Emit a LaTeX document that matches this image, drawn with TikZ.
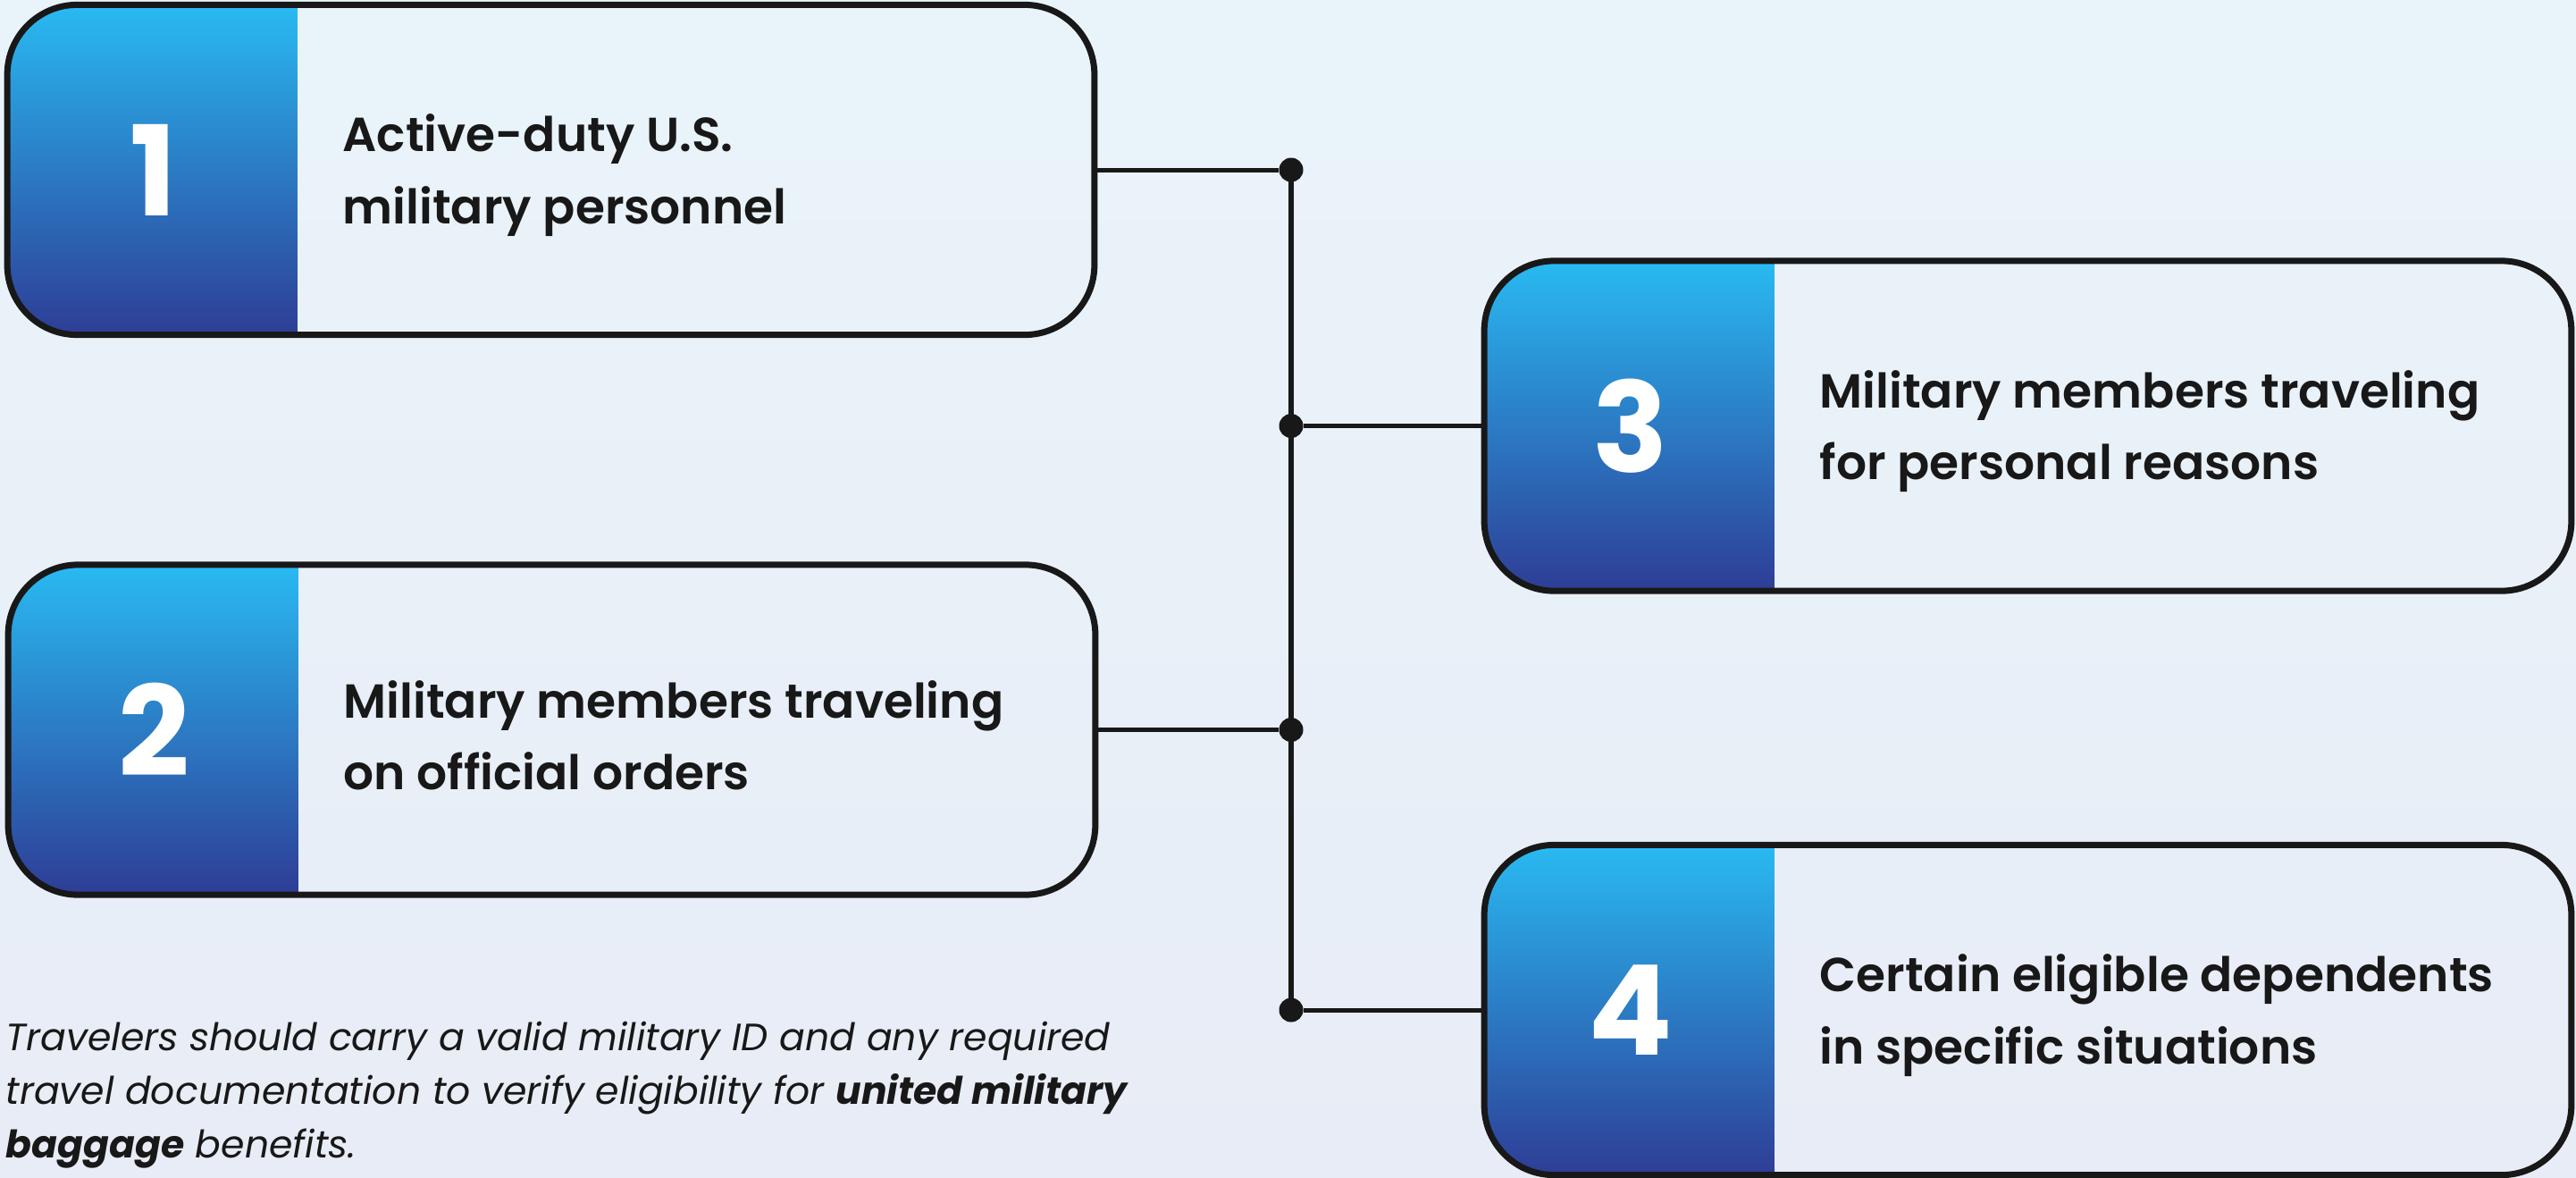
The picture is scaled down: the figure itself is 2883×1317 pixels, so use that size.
\documentclass[tikz,border=0pt]{standalone}
\usepackage{fontspec}
\setmainfont{Poppins}
\newfontfamily\cardfont{Poppins SemiBold}
\usepackage{xcolor}
\usetikzlibrary{calc}

\definecolor{bgtop}{HTML}{E9F4FA}
\definecolor{bgbot}{HTML}{E8ECF6}
\definecolor{skyblue}{HTML}{29BAF2}
\definecolor{deepblue}{HTML}{2E3D96}
\definecolor{ink}{HTML}{181818}

\tikzset{
  card/.style={draw=ink, line width=0.07cm, rounded corners=0.78cm,
    minimum width=12.16cm, minimum height=3.69cm, inner sep=0pt,
    path picture={\shade[sharp corners, top color=skyblue, bottom color=deepblue]
      (path picture bounding box.north west) rectangle
      ([xshift=3.24cm]path picture bounding box.south west);}},
  cardnum/.style={text=white, inner sep=0pt,
    font=\bfseries\fontsize{39.8}{40}\selectfont},
  cardtext/.style={text=ink, anchor=west, align=left, inner sep=0pt,
    font=\cardfont\fontsize{15.2}{22.8}\selectfont},
  dot/.style={circle, fill=ink, inner sep=0pt, minimum size=0.27cm},
  link/.style={draw=ink, line width=0.05cm},
  busline/.style={draw=ink, line width=0.06cm}
}

\begin{document}
\begin{tikzpicture}[x=0.01cm, y=-0.01cm]

    % Background
    \useasboundingbox (0,0) rectangle (2883,1317);
    \shade[top color=bgtop, bottom color=bgbot] (0,0) rectangle (2883,1317);

    % Cards on the left
    \node[card] (c1) at (616.5,190) {};
    \node[cardnum] (n1) at ([xshift=1.67cm]c1.west) {1};
    \node[cardtext] (t1) at ([xshift=3.78cm,yshift=-0.06cm]c1.west) {Active-duty U.S.\\military personnel};

    \node[card] (c2) at (617.5,816.5) {};
    \node[cardnum] (n2) at ([xshift=1.67cm]c2.west) {2};
    \node[cardtext] (t2) at ([xshift=3.78cm,yshift=-0.06cm]c2.west) {Military members traveling\\on official orders};

    % Cards on the right
    \node[card] (c3) at (2269.5,476.5) {};
    \node[cardnum] (n3) at ([xshift=1.67cm]c3.west) {3};
    \node[cardtext] (t3) at ([xshift=3.78cm,yshift=-0.06cm]c3.west) {Military members traveling\\for personal reasons};

    \node[card] (c4) at (2269.5,1130) {};
    \node[cardnum] (n4) at ([xshift=1.67cm]c4.west) {4};
    \node[cardtext] (t4) at ([xshift=3.78cm,yshift=-0.06cm]c4.west) {Certain eligible dependents\\in specific situations};

    % Junction dots on the bus
    \coordinate (bus) at (1445,0);
    \node[dot] (d1) at (c1.east -| bus) {};
    \node[dot] (d3) at (c3.west -| bus) {};
    \node[dot] (d2) at (c2.east -| bus) {};
    \node[dot] (d4) at (c4.west -| bus) {};

    % Connectors
    \draw[busline] (d1.center) -- (d4.center);
    \draw[link] (c1) -- (d1);
    \draw[link] (d3) -- (c3);
    \draw[link] (c2) -- (d2);
    \draw[link] (d4) -- (c4);

    % Note under the cards
    \node[anchor=north west, align=left, inner sep=0pt, text=ink,
      font=\itshape\fontsize{12.1}{17.1}\selectfont] (note) at (6,1142)
      {Travelers should carry a valid military ID and any required\\
       travel documentation to verify eligibility for \textbf{united military}\\
       \textbf{baggage} benefits.};

\end{tikzpicture}
\end{document}
